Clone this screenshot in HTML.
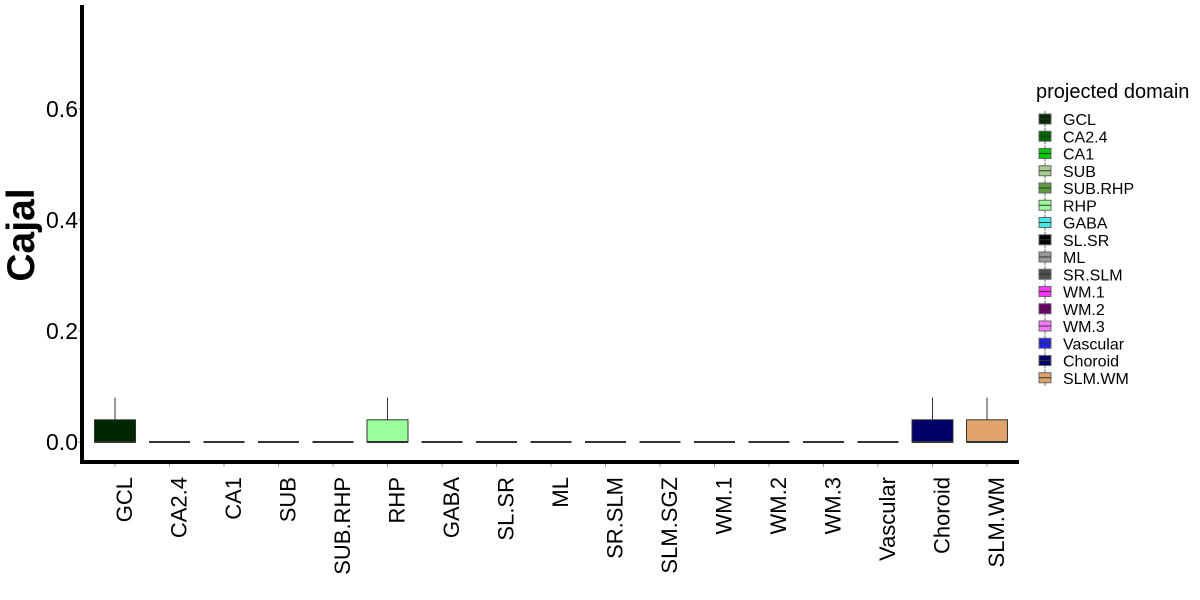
<!DOCTYPE html>
<html><head><meta charset="utf-8"><style>
body{margin:0;background:#fff;}
svg{display:block;font-family:"Liberation Sans",sans-serif;}
</style></head><body>
<svg id="c" width="1200" height="600"></svg>
<script>
const categories=["GCL","CA2.4","CA1","SUB","SUB.RHP","RHP","GABA","SL.SR","ML","SR.SLM","SLM.SGZ","WM.1","WM.2","WM.3","Vascular","Choroid","SLM.WM"];
const q1=[0,0,0,0,0,0,0,0,0,0,0,0,0,0,0,0,0];
const q3=[0.04,0,0,0,0,0.04,0,0,0,0,0,0,0,0,0,0.04,0.04];
const whiskerHigh=[0.08,0,0,0,0,0.08,0,0,0,0,0,0,0,0,0,0.08,0.08];
const yTicks=[0,0.2,0.4,0.6];
const yTickLabels=["0.0","0.2","0.4","0.6"];
const legendNames=["GCL","CA2.4","CA1","SUB","SUB.RHP","RHP","GABA","SL.SR","ML","SR.SLM","WM.1","WM.2","WM.3","Vascular","Choroid","SLM.WM"];
const legendColors=["#002800","#006400","#00c800","#a6cc8f","#5c9a3a","#99ff99","#44e8e8","#000000","#999999","#4d4d4d","#ff33ff","#6b006b","#ff77ff","#2020e8","#00006b","#e0a46b"];
const colorMap={"SLM.SGZ":"#ffffff"};
legendNames.forEach((n,i)=>colorMap[n]=legendColors[i]);

const NS="http://www.w3.org/2000/svg";
const svg=document.getElementById('c');
function mk(t,a,p){const e=document.createElementNS(NS,t);for(const k in a)e.setAttribute(k,a[k]);(p||svg).appendChild(e);return e;}
const y0=442,pxPer=555;
const yS=v=>y0-v*pxPer;
const x0=115,step=54.5;
const xS=i=>x0+i*step;
const bw=41;

yTicks.forEach((v,i)=>{
  const t=mk('text',{x:78,y:yS(v)+8,'text-anchor':'end','font-size':23,fill:'#000'});
  t.textContent=yTickLabels[i];
  
  
  mk('line',{x1:78,x2:81,y1:yS(v),y2:yS(v),stroke:'#999','stroke-width':1});
});
const yt=mk('text',{x:0,y:0,transform:'translate(34,235) rotate(-90)','text-anchor':'middle','font-size':39,'font-weight':'bold',fill:'#000'});
yt.textContent='Cajal';



categories.forEach((c,i)=>{
  const x=xS(i);
  const g=mk('g',{});
  
  
  if(whiskerHigh[i]>q3[i]) mk('line',{x1:x,x2:x,y1:yS(whiskerHigh[i]),y2:yS(q3[i]),stroke:'#333','stroke-width':1},g);
  if(q3[i]>q1[i]) mk('rect',{x:x-bw/2,y:yS(q3[i]),width:bw,height:yS(q1[i])-yS(q3[i]),fill:colorMap[c],stroke:'#333','stroke-width':1},g);
  mk('line',{x1:x-bw/2,x2:x+bw/2,y1:yS(q1[i]),y2:yS(q1[i]),stroke:'#333','stroke-width':2},g);
  mk('line',{x1:x,x2:x,y1:464,y2:467,stroke:'#999','stroke-width':1});
  const t=mk('text',{x:0,y:0,transform:`translate(${x+17},${477}) rotate(-90)`,'text-anchor':'end','font-size':22,fill:'#000'});
  t.textContent=c;
  
  
});

const ya=mk('line',{x1:82,x2:82,y1:5,y2:463,stroke:'#000','stroke-width':4});

const xa=mk('line',{x1:80,x2:1019,y1:462,y2:462,stroke:'#000','stroke-width':4});


const lt=mk('text',{x:1036,y:98,'font-size':20,fill:'#000'});
lt.textContent='projected domain';


legendNames.forEach((n,i)=>{
  const y=119+i*17.25;
  const g=mk('g',{});
  
  
  mk('line',{x1:1045,x2:1045,y1:y-8,y2:y+8,stroke:'#666','stroke-width':1},g);
  mk('rect',{x:1039,y:y-5,width:12,height:10,fill:legendColors[i],stroke:'#666','stroke-width':1},g);
  mk('line',{x1:1039,x2:1051,y1:y,y2:y,stroke:'#333','stroke-width':1},g);
  const t=mk('text',{x:1063,y:y+6,'font-size':16,fill:'#000'},g);
  t.textContent=n;
});
</script>
</body></html>
